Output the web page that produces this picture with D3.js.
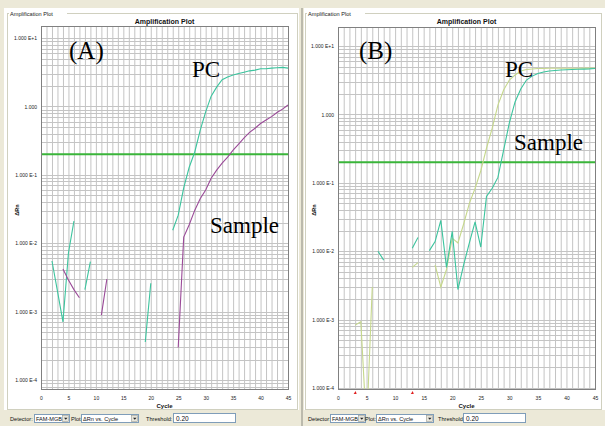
<!DOCTYPE html>
<html lang="en">
<head>
<meta charset="UTF-8">
<script src="https://cdn.jsdelivr.net/npm/d3@7"></script>
<title>Amplification Plot</title>
<style>
  html, body { margin: 0; padding: 0; background: #fff; }
  svg { display: block; font-family: "Liberation Sans", Arial, sans-serif; }
</style>
</head>
<body>
<svg id="chart" width="605" height="426"></svg>
<script>
// cycles 1..45, null = no plottable value (negative dRn on log axis)
let cycles = d3.range(1, 46);
let xTicks = d3.range(0, 46, 5);
let yTicks = [10, 1, 0.1, 0.01, 0.001, 0.0001];
let yTickLabels = ['1.000 E+1', '1.000', '1.000 E-1', '1.000 E-2', '1.000 E-3', '1.000 E-4'];
let threshold = 0.2;
let baselineMarks = [3, 13];

let pcA = [null, 0.0055, 0.0020, 0.00071, 0.0072, 0.021, null, 0.0021, 0.0054,
  null, null, null, null, null, null, null, null, null, 0.00036, 0.0026, null, null, null,
  0.0155, 0.0257, 0.0646, 0.129, 0.214, 0.447, 0.83, 1.41, 1.91, 2.45, 2.69, 2.88, 3.02,
  3.16, 3.31, 3.39, 3.55, 3.55, 3.63, 3.67, 3.72, 3.63];
let sampleA = [null, null, null, 0.0042, 0.0029, 0.0021, 0.0016, null, null, null,
  0.00089, 0.0030, null, null, null, null, null, null, null, null, null, null, null, null,
  0.00030, 0.0123, 0.0186, 0.0302, 0.0447, 0.060, 0.089, 0.117, 0.148, 0.182, 0.229,
  0.282, 0.347, 0.417, 0.479, 0.562, 0.631, 0.708, 0.813, 0.912, 1.05];
let pcB = [null, null, 0.00083, 0.00093, 0.000025, 0.0030, null, null, null, null, null, null,
  0.0058, 0.0068, null, null, 0.0063, 0.0030, 0.0054, 0.0155, 0.0132, 0.025, 0.050, 0.083,
  0.15, 0.32, 0.63, 1.37, 2.27, 3.18, 3.77, 4.31, 4.53, 4.61, 4.69, 4.70, 4.72, 4.72,
  4.73, 4.73, 4.74, 4.74, 4.75, 4.75, 4.76];
let sampleB = [null, null, null, null, null, null, 0.0100, 0.0074, null, null, null, null,
  0.011, 0.0158, null, 0.0102, 0.0138, 0.0282, 0.0058, 0.0195, 0.00275, 0.0063, 0.0132,
  0.0269, 0.0115, 0.063, 0.083, 0.12, 0.30, 0.75, 1.52, 2.35, 3.18, 3.63, 3.96, 4.17,
  4.31, 4.39, 4.46, 4.5, 4.53, 4.57, 4.6, 4.63, 4.69];

let svg = d3.select('#chart');
let beige = '#ece9d8';

// window background
svg.append('rect').attr('width', 605).attr('height', 426).attr('fill', '#fff');
svg.append('rect').attr('width', 605).attr('height', 8).attr('fill', beige);
svg.append('rect').attr('y', 410).attr('width', 605).attr('height', 16).attr('fill', beige);
svg.append('rect').attr('width', 4).attr('height', 426).attr('fill', beige);
svg.append('rect').attr('x', 299).attr('width', 5).attr('height', 426).attr('fill', beige);
svg.append('line').attr('x1', 302).attr('x2', 302).attr('y1', 8).attr('y2', 426)
  .attr('stroke', '#8a8a80');

function drawPanel(o) {
  let g = svg.append('g');

  // group box
  g.append('rect').attr('x', o.boxX + 0.5).attr('y', 13.5).attr('width', o.boxW).attr('height', 396)
    .attr('fill', 'none').attr('stroke', '#d0d0bf');
  g.append('rect').attr('x', o.boxX + 2).attr('y', 9).attr('width', 58).attr('height', 9).attr('fill', '#fff');
  g.append('text').attr('x', o.boxX + 3).attr('y', 15.5).attr('font-size', 5.6).attr('fill', '#222')
    .text('Amplification Plot');

  let x = d3.scaleLinear().domain([0, 45]).range([o.left, o.right]);
  let y = d3.scaleLog().domain([o.yMin, o.yMax]).range([o.bottom, o.top]);

  // chart title
  g.append('text').attr('x', (o.left + o.right) / 2).attr('y', 24).attr('text-anchor', 'middle')
    .attr('font-size', 7).attr('font-weight', 'bold').attr('fill', '#111').text('Amplification Plot');

  // grid
  g.append('g').selectAll('line').data(d3.range(0, 46)).join('line')
    .attr('x1', d => x(d) + 0.5).attr('x2', d => x(d) + 0.5)
    .attr('y1', o.top).attr('y2', o.bottom)
    .attr('stroke', '#c4c4c4').attr('stroke-width', 1);
  let minor = [];
  for (let e = -5; e <= 1; e++) {
    for (let m = 1; m <= 9; m++) {
      let v = m * Math.pow(10, e);
      if (v > o.yMin && v < o.yMax) minor.push(v);
    }
  }
  g.append('g').selectAll('line').data(minor).join('line')
    .attr('x1', o.left).attr('x2', o.right)
    .attr('y1', d => Math.round(y(d)) + 0.5).attr('y2', d => Math.round(y(d)) + 0.5)
    .attr('stroke', '#c4c4c4').attr('stroke-width', 1);

  // axes
  let yAxis = g.append('g').attr('transform', `translate(${o.left},0)`)
    .call(d3.axisLeft(y).tickValues(yTicks).tickSize(0).tickPadding(4)
      .tickFormat((d, i) => yTickLabels[i]));
  yAxis.select('.domain').remove();
  yAxis.selectAll('text').attr('font-size', 5).attr('fill', '#222')
    .attr('font-family', '"Liberation Sans", Arial, sans-serif');

  let xAxis = g.append('g').attr('transform', `translate(0,${o.bottom})`)
    .call(d3.axisBottom(x).tickValues(xTicks).tickSize(0).tickPadding(7));
  xAxis.select('.domain').remove();
  xAxis.selectAll('text').attr('font-size', 5).attr('fill', '#222')
    .attr('font-family', '"Liberation Sans", Arial, sans-serif');

  g.append('text').attr('x', (o.left + o.right) / 2).attr('y', 408).attr('text-anchor', 'middle')
    .attr('font-size', 6).attr('font-weight', 'bold').attr('fill', '#111').text('Cycle');
  g.append('text').attr('transform', `translate(${o.left - 22},210) rotate(-90)`)
    .attr('text-anchor', 'middle').attr('font-size', 5.5).attr('font-weight', 'bold')
    .attr('fill', '#111').text('ΔRn');

  // curves
  let clipId = 'clip' + o.id;
  g.append('clipPath').attr('id', clipId).append('rect')
    .attr('x', o.left).attr('y', o.top).attr('width', o.right - o.left).attr('height', o.bottom - o.top);
  let line = d3.line()
    .defined(d => d[1] != null)
    .x(d => x(d[0])).y(d => y(d[1]));
  let plot = g.append('g').attr('clip-path', `url(#${clipId})`);

  plot.append('line').attr('x1', o.left).attr('x2', o.right)
    .attr('y1', y(threshold)).attr('y2', y(threshold))
    .attr('stroke', '#3ab53a').attr('stroke-width', 2);

  o.series.forEach(s => {
    plot.append('path').datum(cycles.map((c, i) => [c, s.values[i]]))
      .attr('d', line).attr('fill', 'none')
      .attr('stroke', s.color).attr('stroke-width', 1.1);
  });

  // plot frame
  g.append('rect').attr('x', o.left + 0.5).attr('y', o.top + 0.5)
    .attr('width', o.right - o.left).attr('height', o.bottom - o.top)
    .attr('fill', 'none').attr('stroke', '#808080');

  if (o.marks) {
    g.append('g').selectAll('path').data(o.marks).join('path')
      .attr('d', d => `M${x(d) - 1.5},${o.bottom + 5} L${x(d) + 0.5},${o.bottom + 2} L${x(d) + 1.5},${o.bottom + 5} Z`)
      .attr('fill', '#e02020');
  }

  // annotations
  let serif = '"Liberation Serif", "Times New Roman", serif';
  o.labels.forEach(l => {
    g.append('text').attr('x', l.x).attr('y', l.y).attr('font-family', serif)
      .attr('font-size', l.size).attr('fill', '#000').text(l.text);
  });

  // bottom controls
  let c = g.append('g').attr('font-size', 5.6).attr('fill', '#111');
  let cy = 418.5;
  c.append('text').attr('x', o.boxX + o.ctl[0]).attr('y', cy + 2).text('Detector:');
  drawCombo(c, o.boxX + o.ctl[1], 414, 35, 'FAM-MGB');
  c.append('text').attr('x', o.boxX + o.ctl[2]).attr('y', cy + 2).text('Plot:');
  drawCombo(c, o.boxX + o.ctl[3], 414, 57, 'ΔRn vs. Cycle');
  c.append('text').attr('x', o.boxX + o.ctl[4]).attr('y', cy + 2).text('Threshold:');
  c.append('rect').attr('x', o.boxX + o.ctl[5] + 0.5).attr('y', 413.5).attr('width', 62).attr('height', 9)
    .attr('fill', '#fff').attr('stroke', '#7f9db9');
  c.append('text').attr('x', o.boxX + o.ctl[5] + 3).attr('y', cy + 2.5).attr('font-size', 6.5).text('0.20');
}

function drawCombo(c, x0, y0, w, label) {
  c.append('rect').attr('x', x0 + 0.5).attr('y', y0 + 0.5).attr('width', w).attr('height', 8)
    .attr('fill', '#fff').attr('stroke', '#7f9db9');
  c.append('rect').attr('x', x0 + w - 6.5).attr('y', y0 + 1.5).attr('width', 6).attr('height', 6)
    .attr('fill', '#e8e6dc').attr('stroke', '#9a9a90').attr('stroke-width', 0.6);
  c.append('path').attr('d', `M${x0 + w - 5},${y0 + 3.8} L${x0 + w - 1.5},${y0 + 3.8} L${x0 + w - 3.25},${y0 + 5.8} Z`)
    .attr('fill', '#222');
  c.append('text').attr('x', x0 + 2).attr('y', y0 + 6.5).attr('font-size', 5.6).text(label);
}

drawPanel({
  id: 'A', boxX: 7, boxW: 290,
  left: 41, right: 288, top: 26, bottom: 389,
  yMin: Math.pow(10, -4.13), yMax: Math.pow(10, 1.175),
  series: [
    { values: pcA, color: '#3cc49e' },
    { values: sampleA, color: '#9a4a98' }
  ],
  labels: [
    { text: '(A)', x: 69, y: 59, size: 25 },
    { text: 'PC', x: 192, y: 77, size: 23 },
    { text: 'Sample', x: 210, y: 233, size: 23 }
  ],
  ctl: [3, 27, 64, 74, 139, 166]
});

drawPanel({
  id: 'B', boxX: 305, boxW: 296,
  left: 338, right: 595, top: 27, bottom: 389,
  yMin: Math.pow(10, -4.015), yMax: Math.pow(10, 1.278),
  series: [
    { values: pcB, color: '#c6d88c' },
    { values: sampleB, color: '#3cc49e' }
  ],
  marks: baselineMarks,
  labels: [
    { text: '(B)', x: 359, y: 59, size: 25 },
    { text: 'PC', x: 505, y: 77, size: 23 },
    { text: 'Sample', x: 514, y: 150, size: 23 }
  ],
  ctl: [3, 25, 60, 71, 133, 158]
});
</script>
</body>
</html>
